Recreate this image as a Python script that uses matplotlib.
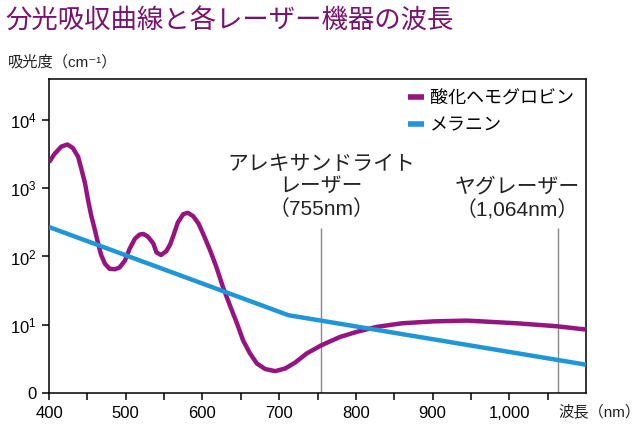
import numpy as np
import matplotlib
matplotlib.use('Agg')
import matplotlib.pyplot as plt
from matplotlib.ticker import FixedLocator, FixedFormatter

plt.rcParams['font.family'] = ['Liberation Sans', 'Noto Sans CJK JP', 'DejaVu Sans']
plt.rcParams['mathtext.fontset'] = 'custom'
plt.rcParams['mathtext.rm'] = 'Liberation Sans'
plt.rcParams['mathtext.it'] = 'Liberation Sans:italic'

# wavelength (nm) and absorbance (cm-1)
hb_nm = [400, 407, 416, 424, 431, 438, 442, 447, 451, 455, 460, 464, 468, 473,
         479, 486, 492, 499, 505, 512, 518, 523, 529, 536, 540, 546, 553, 558,
         562, 568, 575, 581, 588, 595, 601, 610, 618, 627, 636, 645, 653, 662,
         671, 682, 695, 708, 721, 736, 755, 779, 800, 827, 860, 901, 945, 1010,
         1062, 1100]
hb_val = [2400, 3160, 4070, 4370, 3890, 2880, 1950, 1175, 660, 400, 240, 155,
          105, 78, 66, 65, 69, 87, 129, 182, 209, 214, 195, 155, 115, 105, 120,
          151, 200, 316, 417, 437, 389, 302, 214, 123, 71, 35, 19, 10.5, 5.9,
          3.8, 2.7, 2.24, 2.09, 2.29, 2.8, 3.8, 5.0, 6.6, 7.8, 9.3, 10.5, 11.2,
          11.5, 10.5, 9.5, 8.5]

mel_nm = [400, 712, 1100]
mel_val = [270, 13.8, 2.6]

lasers_nm = [755, 1064]
laser_top = 257

x_ticks = [400, 500, 600, 700, 800, 900, 1000]
x_labels = ['400', '500', '600', '700', '800', '900', '1,000']
y_ticks = [1, 10, 100, 1000, 10000]
y_labels = ['0', r'$\mathregular{10^{1}}$', r'$\mathregular{10^{2}}$',
            r'$\mathregular{10^{3}}$', r'$\mathregular{10^{4}}$']

purple = '#961482'
blue = '#1E96D7'

fig = plt.figure(figsize=(6.4, 4.3), dpi=100)
ax = fig.add_axes([49 / 640, 37 / 430, 537 / 640, 314 / 430])

ax.plot(hb_nm, hb_val, color=purple, lw=3.2, solid_capstyle='butt',
        solid_joinstyle='round', label='酸化ヘモグロビン', zorder=3)
ax.plot(mel_nm, mel_val, color=blue, lw=3.2, solid_capstyle='butt',
        solid_joinstyle='round', label='メラニン', zorder=3)

ax.vlines(lasers_nm, 1, laser_top, color='#888888', lw=1.0, zorder=2)

ax.set_yscale('log')
ax.set_xlim(400, 1100)
ax.set_ylim(1, 10 ** 4.6)

ax.xaxis.set_major_locator(FixedLocator(x_ticks))
ax.xaxis.set_major_formatter(FixedFormatter(x_labels))
ax.xaxis.set_minor_locator(FixedLocator([450, 550, 650, 750, 850, 950, 1050]))
ax.yaxis.set_major_locator(FixedLocator(y_ticks))
ax.yaxis.set_major_formatter(FixedFormatter(y_labels))
ax.yaxis.set_minor_locator(FixedLocator([]))

ax.tick_params(axis='both', which='both', direction='out', length=5, width=1.1,
               labelsize=12, color='black')
ax.tick_params(axis='x', pad=4)
ax.tick_params(axis='y', pad=4)
for s in ax.spines.values():
    s.set_linewidth(1.1)

ax.text(755, 1040, 'アレキサンドライト\nレーザー\n（755nm）', ha='center',
        va='center', fontsize=15, linespacing=1.2, color='#222222')
ax.text(1010, 692, 'ヤグレーザー\n（1,064nm）', ha='center', va='center',
        fontsize=15, linespacing=1.2, color='#222222')

leg = ax.legend(loc='upper right', bbox_to_anchor=(1.0, 1.0), frameon=False,
                fontsize=13, handlelength=0.9, handletextpad=0.35,
                labelspacing=0.55, borderaxespad=0.25)
for h in leg.get_lines():
    h.set_linewidth(4)

fig.text(5 / 640, 1 - 21 / 430, '分光吸収曲線と各レーザー機器の波長', fontsize=19,
         color='#78146E', ha='left', va='center')
fig.text(8 / 640, 1 - 62 / 430, '吸光度（cm⁻¹）', fontsize=11, ha='left',
         va='center', color='#222222')
fig.text(558 / 640, 1 - 412 / 430, '波長（nm）', fontsize=11, ha='left',
         va='center', color='#222222')

fig.savefig('out.png', dpi=100)
